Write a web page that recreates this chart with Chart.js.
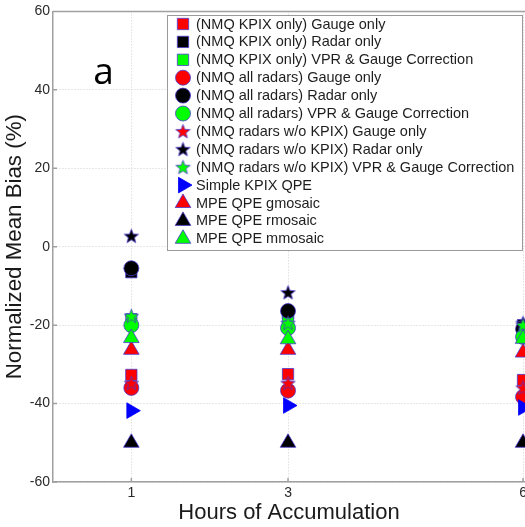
<!DOCTYPE html>
<html>
<head>
<meta charset="utf-8">
<script src="https://cdn.jsdelivr.net/npm/chart.js@4.4.0/dist/chart.umd.min.js"></script>
<style>
  html, body { margin: 0; padding: 0; background: #fff; }
</style>
</head>
<body>
<canvas id="chart" width="525" height="527"></canvas>
<script>
// hours of accumulation (x) and normalized mean bias in % (y)
const hours = [1, 3, 6];
const xTicks = [1, 3, 6];

const kpixGauge = [-32.7, -32.5, -34.0];
const kpixRadar = [-6.5, -17.0, -20.0];
const kpixVpr = [-18.5, -19.1, -20.5];
const allGauge = [-36.0, -36.7, -38.3];
const allRadar = [-5.5, -16.4, -21.0];
const allVpr = [-20.0, -20.7, -23.0];
const woGauge = [-34.8, -34.8, -36.0];
const woRadar = [2.7, -11.7, -19.5];
const woVpr = [-17.7, -19.5, -20.0];
const simpleKpix = [-41.8, -40.5, -41.0];
const mpeG = [-26.3, -26.3, -27.0];
const mpeR = [-50.0, -50.0, -50.0];
const mpeM = [-23.3, -23.6, -23.5];

const RED = '#ff0000', BLACK = '#000000', GREEN = '#00ff00', BLUE = '#0000ff';
const EDGE = '#4a3ad0';
const FONT = '"Liberation Sans", Arial, sans-serif';

function makeStar(fill, size) {
  const c = document.createElement('canvas');
  c.width = c.height = size;
  const g = c.getContext('2d');
  const cx = size / 2, cy = size / 2 + 0.5, R = size / 2 - 1, r = R * 0.42;
  g.beginPath();
  for (let k = 0; k < 10; k++) {
    const a = -Math.PI / 2 + k * Math.PI / 5;
    const rr = k % 2 ? r : R;
    g.lineTo(cx + rr * Math.cos(a), cy + rr * Math.sin(a));
  }
  g.closePath();
  g.fillStyle = fill;
  g.fill();
  g.strokeStyle = EDGE;
  g.lineWidth = 0.8;
  g.stroke();
  return c;
}

function series(label, values, color, style, radius, rotation) {
  return {
    label: label,
    data: hours.map((h, i) => ({ x: h, y: values[i] })),
    backgroundColor: color,
    borderColor: color === BLUE ? BLUE : EDGE,
    borderWidth: 0.8,
    pointStyle: style,
    pointRadius: radius,
    pointHoverRadius: radius,
    pointRotation: rotation || 0,
    showLine: false,
    clip: false
  };
}

const datasets = [
  series('(NMQ KPIX only) Gauge only', kpixGauge, RED, 'rect', 8),
  series('(NMQ KPIX only) Radar only', kpixRadar, BLACK, 'rect', 8),
  series('(NMQ KPIX only) VPR & Gauge Correction', kpixVpr, GREEN, 'rect', 8),
  series('(NMQ all radars) Gauge only', allGauge, RED, 'circle', 7.5),
  series('(NMQ all radars) Radar only', allRadar, BLACK, 'circle', 7.5),
  series('(NMQ all radars) VPR & Gauge Correction', allVpr, GREEN, 'circle', 7.5),
  series('(NMQ radars w/o KPIX) Gauge only', woGauge, RED, makeStar(RED, 17), 8),
  series('(NMQ radars w/o KPIX) Radar only', woRadar, BLACK, makeStar(BLACK, 17), 8),
  series('(NMQ radars w/o KPIX) VPR & Gauge Correction', woVpr, GREEN, makeStar(GREEN, 17), 8),
  series('Simple KPIX QPE', simpleKpix, BLUE, 'triangle', 9, 90),
  series('MPE QPE gmosaic', mpeG, RED, 'triangle', 9),
  series('MPE QPE rmosaic', mpeR, BLACK, 'triangle', 9),
  series('MPE QPE mmosaic', mpeM, GREEN, 'triangle', 9)
];
// later series are drawn on top
datasets.forEach((d, i) => { d.order = datasets.length - i; });

const legendBox = {
  id: 'legendBox',
  afterDatasetsDraw(chart) {
    const ctx = chart.ctx;
    const x0 = 167, y0 = 15, w = 355, h = 235;
    ctx.save();
    ctx.fillStyle = '#ffffff';
    ctx.fillRect(x0, y0, w, h);
    ctx.strokeStyle = '#9a9a9a';
    ctx.lineWidth = 1;
    ctx.strokeRect(x0 + 0.5, y0 + 0.5, w, h);
    ctx.font = '14.5px ' + FONT;
    ctx.textBaseline = 'middle';
    ctx.textAlign = 'left';
    chart.data.datasets.forEach((d, i) => {
      const y = 24 + i * 17.9;
      const mx = 183;
      ctx.fillStyle = d.backgroundColor;
      ctx.strokeStyle = d.borderColor;
      ctx.lineWidth = d.borderWidth;
      if (typeof d.pointStyle === 'string') {
        Chart.helpers.drawPoint(ctx, {
          pointStyle: d.pointStyle,
          radius: d.pointRadius,
          rotation: d.pointRotation,
          borderWidth: d.borderWidth
        }, mx, y);
      } else {
        ctx.drawImage(d.pointStyle, mx - d.pointStyle.width / 2, y - d.pointStyle.height / 2);
      }
      ctx.fillStyle = '#1e1e1e';
      ctx.fillText(d.label, 196, y + 0.5);
    });
    ctx.restore();
  }
};

const extras = {
  id: 'extras',
  afterDraw(chart) {
    const ctx = chart.ctx;
    const a = chart.chartArea;
    const sy = chart.scales.y, sx = chart.scales.x;
    ctx.save();
    ctx.strokeStyle = '#a0a0a0';
    ctx.lineWidth = 1.5;
    ctx.beginPath();
    // top frame line
    ctx.moveTo(a.left, a.top);
    ctx.lineTo(a.right, a.top);
    // short inward tick marks
    sy.ticks.forEach(t => {
      const p = sy.getPixelForValue(t.value);
      ctx.moveTo(a.left, p);
      ctx.lineTo(a.left + 4, p);
    });
    sx.ticks.forEach(t => {
      const p = sx.getPixelForValue(t.value);
      ctx.moveTo(p, a.bottom);
      ctx.lineTo(p, a.bottom - 4);
    });
    ctx.stroke();
    // panel letter
    ctx.fillStyle = '#000000';
    ctx.font = '37px "Open Sans", sans-serif';
    ctx.textAlign = 'center';
    ctx.textBaseline = 'middle';
    ctx.fillText('a', 103.5, 73);
    ctx.restore();
  }
};

new Chart(document.getElementById('chart'), {
  type: 'scatter',
  data: { datasets: datasets },
  options: {
    responsive: false,
    animation: false,
    layout: { autoPadding: false, padding: { top: 10, left: 0, right: 0, bottom: 0 } },
    plugins: { legend: { display: false }, tooltip: { enabled: false } },
    scales: {
      x: {
        type: 'linear',
        min: 0,
        max: 6.025,
        afterBuildTicks: s => { s.ticks = xTicks.map(v => ({ value: v })); },
        afterFit: s => { s.height = 45; s.paddingLeft = 0; s.paddingRight = 0; },
        ticks: {
          color: '#2a2a2a',
          font: { family: FONT, size: 14 },
          padding: 3,
          maxRotation: 0
        },
        grid: { color: '#cfcfcf', lineWidth: 1, drawTicks: false },
        border: { display: true, color: '#a0a0a0', width: 1.5, dash: [1, 2] },
        title: {
          display: true,
          text: 'Hours of Accumulation',
          color: '#1a1a1a',
          font: { family: FONT, size: 22 },
          padding: { top: 0, bottom: 1 }
        }
      },
      y: {
        min: -60,
        max: 60,
        afterFit: s => { s.width = 53; },
        ticks: {
          stepSize: 20,
          color: '#2a2a2a',
          font: { family: FONT, size: 14 },
          padding: 3
        },
        grid: { color: '#cfcfcf', lineWidth: 1, drawTicks: false },
        border: { display: true, color: '#a0a0a0', width: 1.5, dash: [1, 2] },
        title: {
          display: true,
          text: 'Normalized Mean Bias (%)',
          color: '#1a1a1a',
          font: { family: FONT, size: 22.3 },
          padding: { top: 1, bottom: 0 }
        }
      }
    }
  },
  plugins: [legendBox, extras]
});
</script>
</body>
</html>
